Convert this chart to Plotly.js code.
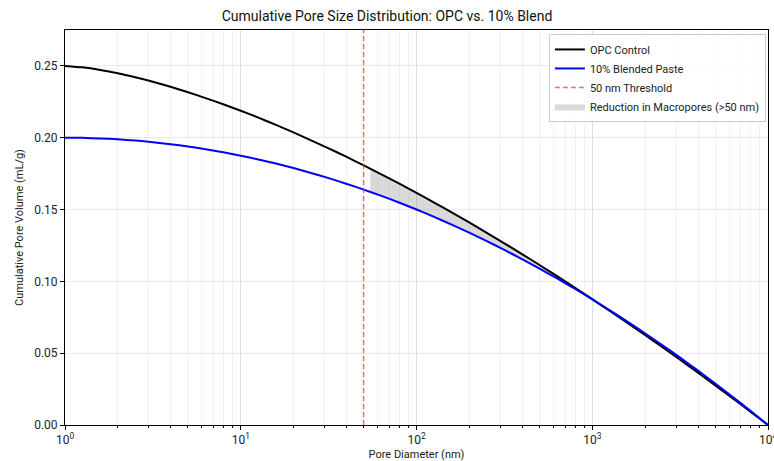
<!DOCTYPE html>
<html>
<head>
<meta charset="utf-8">
<script src="https://cdn.plot.ly/plotly-3.0.1.min.js"></script>
<style>html,body{margin:0;padding:0;background:#fff;}#chart{width:774px;height:461px;}</style>
</head>
<body>
<div id="chart"></div>
<script>
// Pore diameters (nm)
const diameters = [1, 1.259, 1.585, 1.995, 2.512, 3.162, 3.981, 5.012, 6.310, 7.943,
  10, 12.59, 15.85, 19.95, 25.12, 31.62, 39.81, 50.12, 63.10, 79.43,
  100, 125.9, 158.5, 199.5, 251.2, 316.2, 398.1, 501.2, 631.0, 794.3,
  1000, 1259, 1585, 1995, 2512, 3162, 3981, 5012, 6310, 7943, 10000];
// Cumulative pore volume (mL/g)
const opcControl = [0.2500, 0.2490, 0.2472, 0.2449, 0.2421, 0.2390, 0.2355, 0.2317, 0.2276, 0.2233,
  0.2188, 0.2140, 0.2089, 0.2037, 0.1982, 0.1926, 0.1868, 0.1807, 0.1745, 0.1682,
  0.1616, 0.1549, 0.1480, 0.1410, 0.1338, 0.1265, 0.1190, 0.1114, 0.1036, 0.0957,
  0.0876, 0.0794, 0.0711, 0.0627, 0.0541, 0.0454, 0.0366, 0.0276, 0.0185, 0.0093, 0.0000];
const blendedPaste = [0.2000, 0.1999, 0.1995, 0.1989, 0.1980, 0.1969, 0.1955, 0.1939, 0.1920, 0.1899,
  0.1875, 0.1849, 0.1820, 0.1789, 0.1755, 0.1719, 0.1680, 0.1639, 0.1595, 0.1549,
  0.1500, 0.1449, 0.1395, 0.1339, 0.1280, 0.1219, 0.1155, 0.1089, 0.1020, 0.0949,
  0.0875, 0.0799, 0.0720, 0.0639, 0.0555, 0.0469, 0.0380, 0.0289, 0.0195, 0.0099, 0.0000];
// Shaded macropore region (d > 50 nm, where OPC exceeds blend)
const fillDiameters = [54.6, 63.10, 79.43, 100, 125.9, 158.5, 199.5, 251.2, 316.2, 398.1, 501.2, 631.0, 794.3, 1000];
const fillOPC = [0.1785, 0.1745, 0.1682, 0.1616, 0.1549, 0.1480, 0.1410, 0.1338, 0.1265, 0.1190, 0.1114, 0.1036, 0.0957, 0.0876];
const fillBlend = [0.1623, 0.1595, 0.1549, 0.1500, 0.1449, 0.1395, 0.1339, 0.1280, 0.1219, 0.1155, 0.1089, 0.1020, 0.0949, 0.0875];
const thresholdX = [50, 50];
const thresholdY = [0, 0.275];
const xTickVals = [1, 10, 100, 1000, 10000];
const xTickText = ['10<sup>0</sup>', '10<sup>1</sup>', '10<sup>2</sup>', '10<sup>3</sup>', '10<sup>4</sup>'];

const FONT = 'Roboto, "Open Sans", sans-serif';

const traces = [
  {x: fillDiameters, y: fillBlend, mode: 'lines', line: {width: 0, color: 'rgba(0,0,0,0)', shape: 'spline', smoothing: 0.6},
   showlegend: false, hoverinfo: 'skip'},
  {x: fillDiameters, y: fillOPC, mode: 'lines', line: {width: 0, color: 'rgba(0,0,0,0)', shape: 'spline', smoothing: 0.6},
   fill: 'tonexty', fillcolor: 'rgba(128,128,128,0.3)', name: 'Reduction in Macropores (>50 nm)',
   legendrank: 4},
  {x: diameters, y: opcControl, mode: 'lines', name: 'OPC Control',
   line: {color: '#000000', width: 2, shape: 'spline', smoothing: 0.6}, legendrank: 1},
  {x: diameters, y: blendedPaste, mode: 'lines', name: '10% Blended Paste',
   line: {color: '#0000ff', width: 2, shape: 'spline', smoothing: 0.6}, legendrank: 2},
  {x: thresholdX, y: thresholdY, mode: 'lines', name: '50 nm Threshold',
   line: {color: 'rgba(255,40,40,0.7)', width: 1.5, dash: '5px,3px'}, legendrank: 3}
];

const layout = {
  width: 774, height: 461,
  margin: {l: 65, r: 6, t: 30, b: 36},
  paper_bgcolor: '#ffffff', plot_bgcolor: '#ffffff',
  font: {family: FONT, color: '#222', size: 11},
  title: {text: 'Cumulative Pore Size Distribution: OPC vs. 10% Blend', x: 0.5, xanchor: 'center',
          y: 0.965, yanchor: 'middle', font: {family: FONT, size: 14, color: '#111'}},
  xaxis: {
    type: 'log', range: [0, 4],
    tickvals: xTickVals, ticktext: xTickText, ticklabeloverflow: 'allow',
    ticks: 'outside', ticklen: 4, tickcolor: '#000',
    showline: true, linecolor: '#000', linewidth: 1, mirror: true,
    showgrid: true, gridcolor: 'rgba(0,0,0,0.08)', gridwidth: 1,
    minor: {showgrid: true, gridcolor: 'rgba(0,0,0,0.05)', ticks: 'outside', ticklen: 2, tickcolor: '#000', dtick: 'D1'},
    zeroline: false,
    tickfont: {size: 12, color: '#222'},
    title: {text: 'Pore Diameter (nm)', standoff: 5, font: {size: 11, color: '#222'}}
  },
  yaxis: {
    range: [0, 0.275], dtick: 0.05, tick0: 0, tickformat: '.2f',
    ticks: 'outside', ticklen: 4, tickcolor: '#000',
    showline: true, linecolor: '#000', linewidth: 1, mirror: true,
    showgrid: true, gridcolor: 'rgba(0,0,0,0.08)', zeroline: false,
    tickfont: {size: 12, color: '#222'},
    title: {text: 'Cumulative Pore Volume (mL/g)', standoff: 8, font: {size: 11, color: '#222'}}
  },
  legend: {
    x: 0.997, y: 0.99, xanchor: 'right', yanchor: 'top',
    bgcolor: 'rgba(255,255,255,0.85)', bordercolor: '#cccccc', borderwidth: 1,
    font: {size: 11, color: '#222'}, traceorder: 'normal', tracegroupgap: 0,
    itemwidth: 30
  },
  showlegend: true
};

Plotly.newPlot('chart', traces, layout, {displayModeBar: false, staticPlot: true});
</script>
</body>
</html>
